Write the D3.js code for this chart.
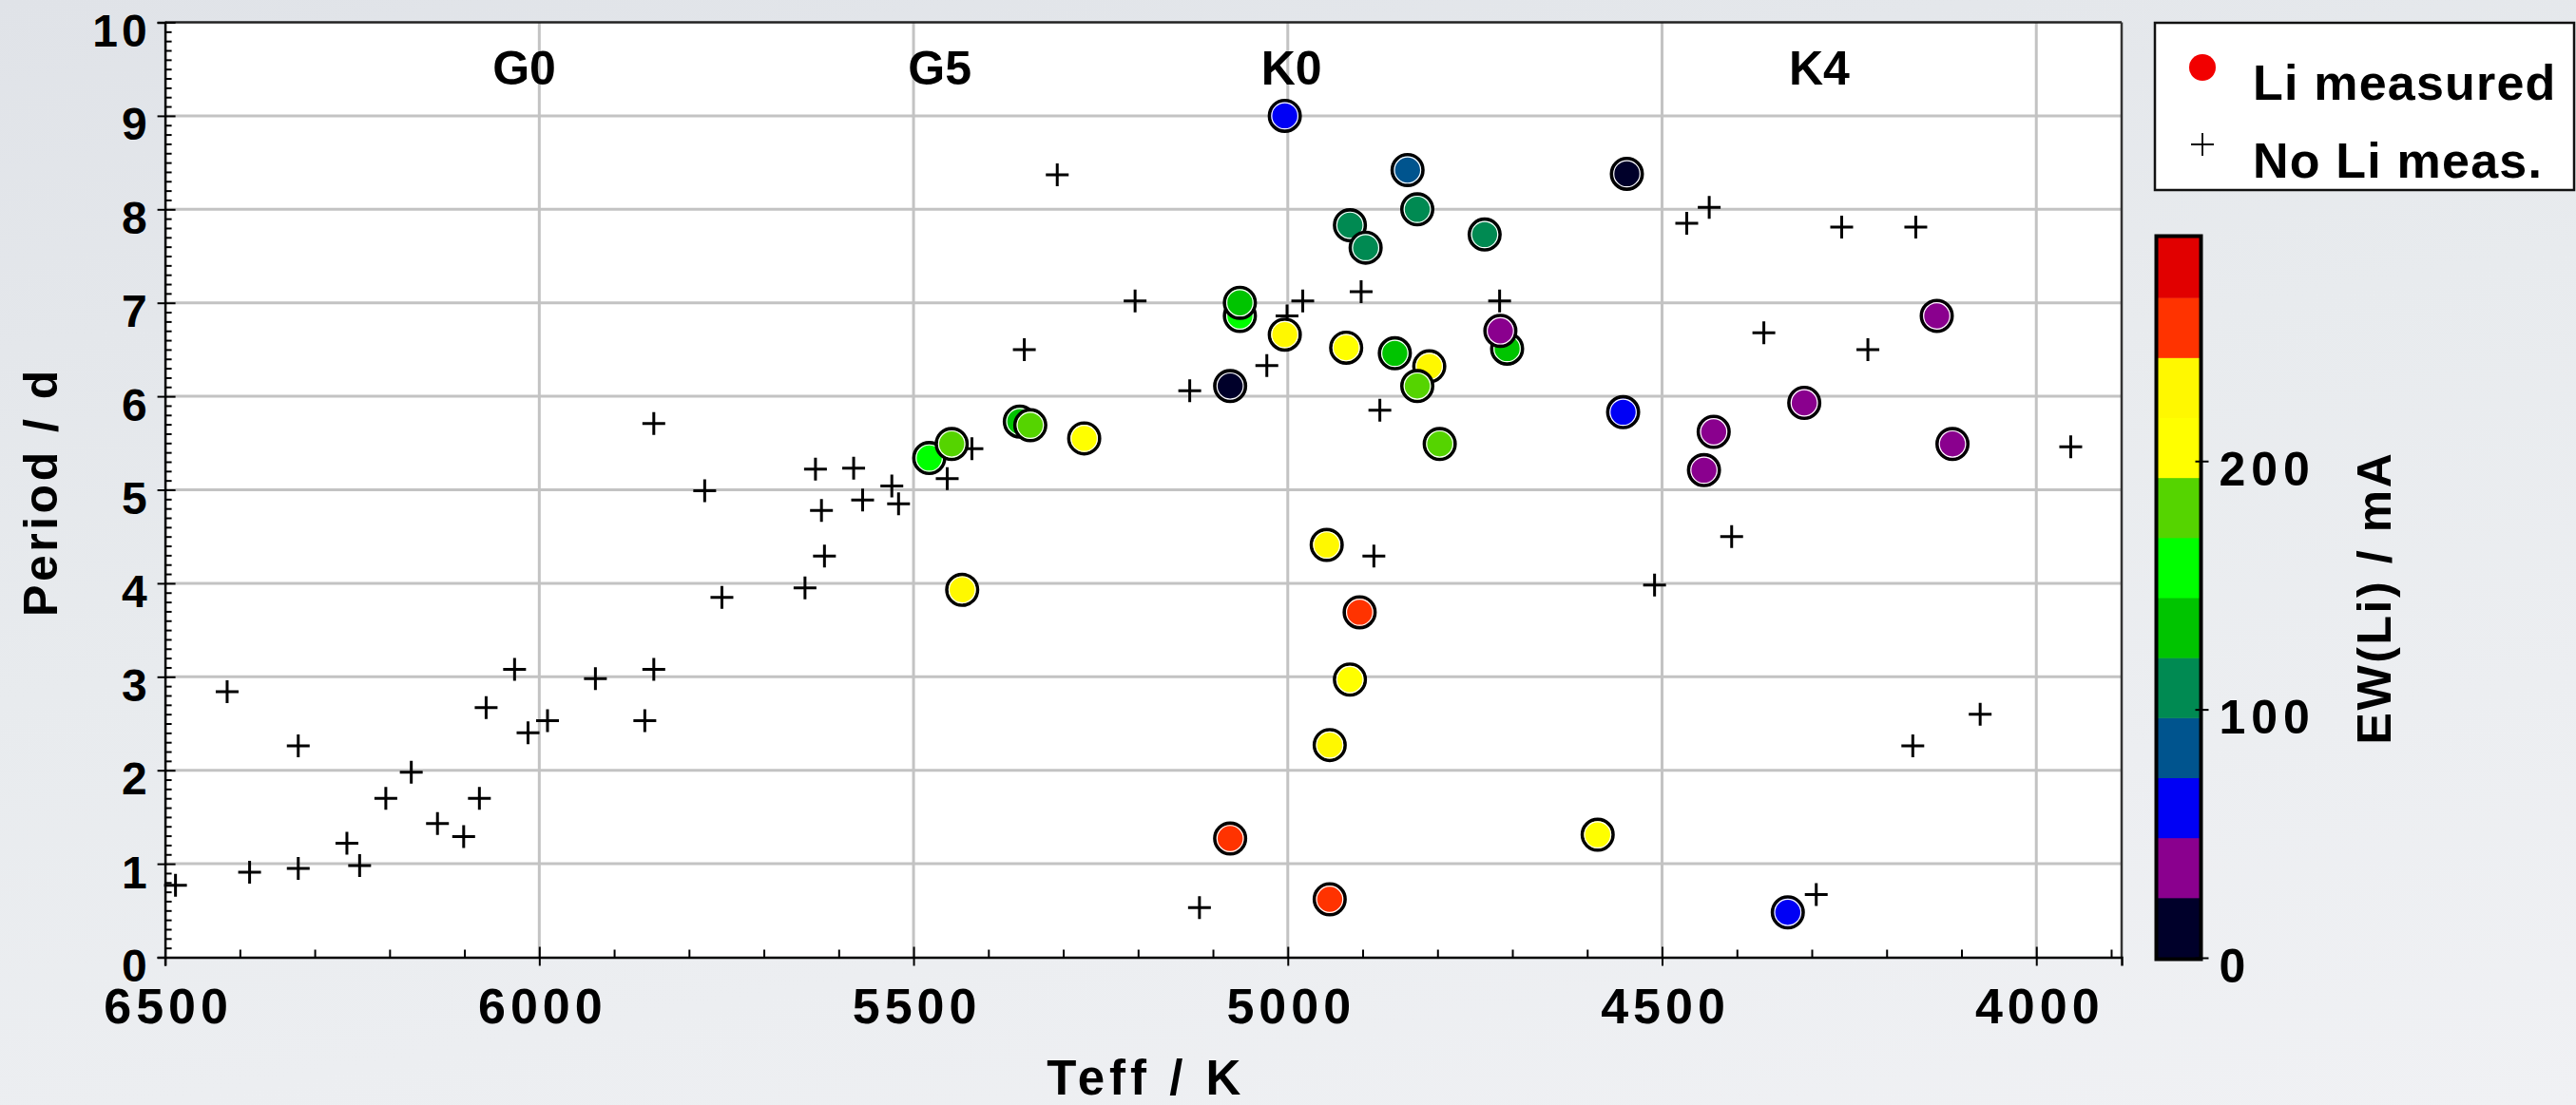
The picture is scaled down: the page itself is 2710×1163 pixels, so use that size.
<!DOCTYPE html>
<html>
<head>
<meta charset="utf-8">
<script src="https://cdn.jsdelivr.net/npm/d3@7"></script>
<style>
  html, body { margin: 0; padding: 0; }
  body {
    width: 2710px; height: 1163px; overflow: hidden;
    background: linear-gradient(170deg, #e0e3e8 0%, #e8ebee 45%, #f0f1f4 100%);
  }
  svg { display: block; }
  text { font-family: "Liberation Sans", Arial, Helvetica, sans-serif; font-weight: bold; fill: #000; }
</style>
</head>
<body>
<svg id="chart" width="2710" height="1163"></svg>
<script>
// Stars without a lithium measurement: effective temperature (K) and rotation period (d)
const crossTeff = [6486, 6417, 6387, 6322, 6322, 6257, 6240, 6205, 6171, 6136, 6101, 6080,
  6071, 6033, 6015, 5989, 5925, 5859, 5847, 5847, 5779, 5756, 5645, 5631, 5623, 5619,
  5580, 5568, 5529, 5520, 5455, 5422, 5352, 5308, 5204, 5131, 5118, 5028, 5001, 4980,
  4902, 4885, 4877, 4717, 4510, 4467, 4437, 4407, 4364, 4294, 4260, 4225, 4165, 4161,
  4075, 3954];
const crossPeriod = [0.77, 2.84, 0.91, 2.26, 0.95, 1.22, 0.98, 1.70, 1.98, 1.43, 1.29, 1.70,
  2.67, 3.08, 2.40, 2.53, 2.98, 2.53, 3.08, 5.71, 4.99, 3.85, 3.95, 5.22, 4.78, 4.29,
  5.23, 4.89, 5.04, 4.85, 5.12, 5.44, 6.50, 8.37, 7.02, 6.06, 0.53, 6.33, 6.86, 7.02,
  7.12, 4.29, 5.85, 7.02, 3.98, 7.85, 8.02, 4.50, 6.68, 0.67, 7.81, 6.50, 2.26, 7.81,
  2.60, 5.46];

// Stars with a lithium equivalent width EW(Li) in mA
const liTeff = [5004, 4840, 4827, 4917, 4896, 4737, 4547, 5064, 5064, 5004, 4922, 4857,
  4811, 4827, 5077, 4797, 5272, 5358, 5344, 5479, 5449, 4707, 4716, 4552, 4431, 4444,
  4310, 4133, 4112, 5435, 4948, 4904, 4917, 4944, 5077, 4944, 4586, 4332];
const liPeriod = [9.00, 8.42, 8.00, 7.83, 7.59, 7.73, 8.38, 6.86, 7.00, 6.66, 6.52, 6.46,
  6.32, 6.11, 6.11, 5.49, 5.55, 5.73, 5.69, 5.34, 5.49, 6.51, 6.70, 5.83, 5.62, 5.21,
  5.93, 6.86, 5.49, 3.93, 4.41, 3.69, 2.97, 2.27, 1.27, 0.62, 1.31, 0.48];
const liEW = [62, 84, 108, 112, 106, 110, 8, 158, 135, 220, 212, 130,
  225, 180, 5, 178, 215, 140, 175, 160, 182, 128, 38, 58, 34, 40,
  30, 36, 42, 218, 222, 250, 210, 228, 255, 258, 214, 64];

// Colour bands of the EW(Li) scale, from 0 up to the top of the bar
const ewBandColors = ["#00002a", "#8a008e", "#0000f5", "#00548e", "#008a52", "#00c400",
  "#00ff00", "#55d400", "#ffff00", "#fff800", "#ff3300", "#e10000"];
const ewMax = 290;
const ewTicks = [0, 100, 200];

// Axis ticks and spectral-type markers
const xMajorTicks = [6500, 6000, 5500, 5000, 4500, 4000];
const yMajorTicks = [0, 1, 2, 3, 4, 5, 6, 7, 8, 9, 10];
const spectralLabels = ["G0", "G5", "K0", "K4"];
const spectralTeff = [6020, 5465, 4995, 4290];

const svg = d3.select("#chart");

const plot = { left: 173.6, right: 2232, top: 23.5, bottom: 1007.5 };

const x = d3.scaleLinear().domain([6500, 3886]).range([plot.left, plot.right]);
const y = d3.scaleLinear().domain([0, 10]).range([plot.bottom, plot.top]);
const ewColor = d3.scaleQuantize().domain([0, ewMax]).range(ewBandColors);

// plot background
svg.append("rect")
  .attr("x", plot.left).attr("y", plot.top)
  .attr("width", plot.right - plot.left).attr("height", plot.bottom - plot.top)
  .attr("fill", "#fff");

// grid
const grid = svg.append("g").attr("stroke", "#c3c3c3").attr("stroke-width", 3);
grid.selectAll("line.h").data(yMajorTicks.filter(v => v > 0 && v < 10)).join("line")
  .attr("class", "h")
  .attr("x1", plot.left).attr("x2", plot.right)
  .attr("y1", d => y(d)).attr("y2", d => y(d));
grid.selectAll("line.v").data(xMajorTicks.filter(v => v < 6500)).join("line")
  .attr("class", "v")
  .attr("y1", plot.top).attr("y2", plot.bottom)
  .attr("x1", d => x(d)).attr("x2", d => x(d));

// frame: top and right
svg.append("line").attr("x1", plot.left).attr("x2", plot.right)
  .attr("y1", plot.top).attr("y2", plot.top)
  .attr("stroke", "#222").attr("stroke-width", 2.5);
svg.append("line").attr("x1", plot.right).attr("x2", plot.right)
  .attr("y1", plot.top).attr("y2", plot.bottom)
  .attr("stroke", "#333").attr("stroke-width", 2.5);

// minor tick values
const yMinor = d3.range(0, 100).map(i => i / 10).filter(v => Math.abs(v - Math.round(v)) > 1e-6);
const xMinor = d3.range(3900, 6500, 100).filter(v => v % 500 !== 0);

// y axis
const yAxisG = svg.append("g").attr("transform", `translate(${plot.left},0)`);
yAxisG.append("g").call(d3.axisLeft(y).tickValues(yMinor).tickSize(-7).tickFormat(""));
yAxisG.append("g").call(d3.axisLeft(y).tickValues(yMajorTicks).tickSize(-11).tickFormat(""));
const yLab = yAxisG.append("g").call(d3.axisLeft(y).tickValues(yMajorTicks).tickSize(8).tickPadding(14).tickFormat(d3.format("d")));
yLab.selectAll("text").attr("dy", "0.52em").style("font-size", "48px").style("letter-spacing", "4px").attr("dx", 7);
yAxisG.selectAll("path.domain").attr("stroke", "#000").attr("stroke-width", 2.5);
yAxisG.selectAll(".tick line").attr("stroke", "#000").attr("stroke-width", 2);

// x axis
const xAxisG = svg.append("g").attr("transform", `translate(0,${plot.bottom})`);
xAxisG.append("g").call(d3.axisBottom(x).tickValues(xMinor).tickSize(-8).tickFormat(""));
xAxisG.append("g").call(d3.axisBottom(x).tickValues(xMajorTicks).tickSize(-11).tickFormat(""));
const xLab = xAxisG.append("g").call(d3.axisBottom(x).tickValues(xMajorTicks).tickSize(9).tickFormat(d3.format("d")));
xLab.selectAll("text").attr("y", 69).attr("dy", 0).attr("dx", 3)
  .style("font-size", "52px").style("letter-spacing", "5px");
xAxisG.selectAll("path.domain").attr("stroke", "#000").attr("stroke-width", 2.5);
xAxisG.selectAll(".tick line").attr("stroke", "#000").attr("stroke-width", 2);
xAxisG.selectAll("path.domain").filter((d, i) => i < 2).attr("stroke", "none");
yAxisG.selectAll("path.domain").filter((d, i) => i < 2).attr("stroke", "none");

// axis titles
svg.append("text")
  .attr("x", (plot.left + plot.right) / 2 + 3).attr("y", 1152)
  .attr("text-anchor", "middle")
  .style("font-size", "51px").style("letter-spacing", "5px")
  .text("Teff / K");
svg.append("text")
  .attr("transform", `translate(60,${(plot.top + plot.bottom) / 2 + 2}) rotate(-90)`)
  .attr("text-anchor", "middle")
  .style("font-size", "50px").style("letter-spacing", "3.5px")
  .text("Period / d");

// spectral type labels
svg.append("g").selectAll("text").data(spectralLabels).join("text")
  .attr("x", (d, i) => x(spectralTeff[i])).attr("y", 89)
  .attr("text-anchor", "middle")
  .style("font-size", "50px")
  .text(d => d);

// stars without Li measurement
const crossData = crossTeff.map((t, i) => ({ t, p: crossPeriod[i] }));
svg.append("g").selectAll("path").data(crossData).join("path")
  .attr("transform", d => `translate(${x(d.t)},${y(d.p)})`)
  .attr("d", "M-12,0H12M0,-12V12")
  .attr("stroke", "#000").attr("stroke-width", 3).attr("fill", "none");

// stars with Li measurement, coloured by EW(Li)
const liData = liTeff.map((t, i) => ({ t, p: liPeriod[i], ew: liEW[i] }));
const dots = svg.append("g").selectAll("g").data(liData).join("g")
  .attr("transform", d => `translate(${x(d.t)},${y(d.p)})`);
dots.append("circle").attr("r", 16.2)
  .attr("fill", d => ewColor(d.ew)).attr("stroke", "#000").attr("stroke-width", 3.6);
dots.append("circle").attr("r", 13.8)
  .attr("fill", "none").attr("stroke", "#fff").attr("stroke-width", 1.2);

// legend
const lg = svg.append("g");
lg.append("rect").attr("x", 2267).attr("y", 24).attr("width", 441).attr("height", 176)
  .attr("fill", "#fff").attr("stroke", "#111").attr("stroke-width", 2.5);
lg.append("circle").attr("cx", 2317).attr("cy", 71).attr("r", 14).attr("fill", "#f20000");
lg.append("path").attr("transform", "translate(2317,152)")
  .attr("d", "M-12,0H12M0,-12V12").attr("stroke", "#000").attr("stroke-width", 1.8);
lg.append("text").attr("x", 2370).attr("y", 105).style("font-size", "52px").style("letter-spacing", "1.2px")
  .text("Li measured");
lg.append("text").attr("x", 2370).attr("y", 187).style("font-size", "52px").style("letter-spacing", "1.2px")
  .text("No Li meas.");

// colour bar
const cb = { x0: 2270, x1: 2314 };
const c = d3.scaleLinear().domain([0, ewMax]).range([1008, 250]);
const bandW = ewMax / ewBandColors.length;
const cbG = svg.append("g");
cbG.selectAll("rect").data(ewBandColors).join("rect")
  .attr("x", cb.x0).attr("width", cb.x1 - cb.x0)
  .attr("y", (d, i) => c((i + 1) * bandW)).attr("height", (d, i) => c(i * bandW) - c((i + 1) * bandW) + 0.5)
  .attr("fill", d => d);
cbG.append("rect").attr("x", cb.x0 - 1.5).attr("y", c(ewMax) - 1.5)
  .attr("width", cb.x1 - cb.x0 + 3).attr("height", c(0) - c(ewMax) + 3)
  .attr("fill", "none").attr("stroke", "#000").attr("stroke-width", 4);
const cbAxis = svg.append("g").attr("transform", `translate(${cb.x1 + 1.5},0)`)
  .call(d3.axisRight(c).tickValues(ewTicks).tickSize(8).tickPadding(11).tickFormat(d3.format("d")));
cbAxis.select("path.domain").remove();
cbAxis.selectAll(".tick line").attr("stroke", "#000").attr("stroke-width", 2).attr("x1", -6);
cbAxis.selectAll("text").attr("dy", "0.5em").style("font-size", "50px").style("letter-spacing", "6px");
svg.append("text")
  .attr("transform", `translate(2515,${(c(0) + c(ewMax)) / 2}) rotate(-90)`)
  .attr("text-anchor", "middle")
  .style("font-size", "50px").style("letter-spacing", "2.6px")
  .text("EW(Li) / mA");
</script>
</body>
</html>
